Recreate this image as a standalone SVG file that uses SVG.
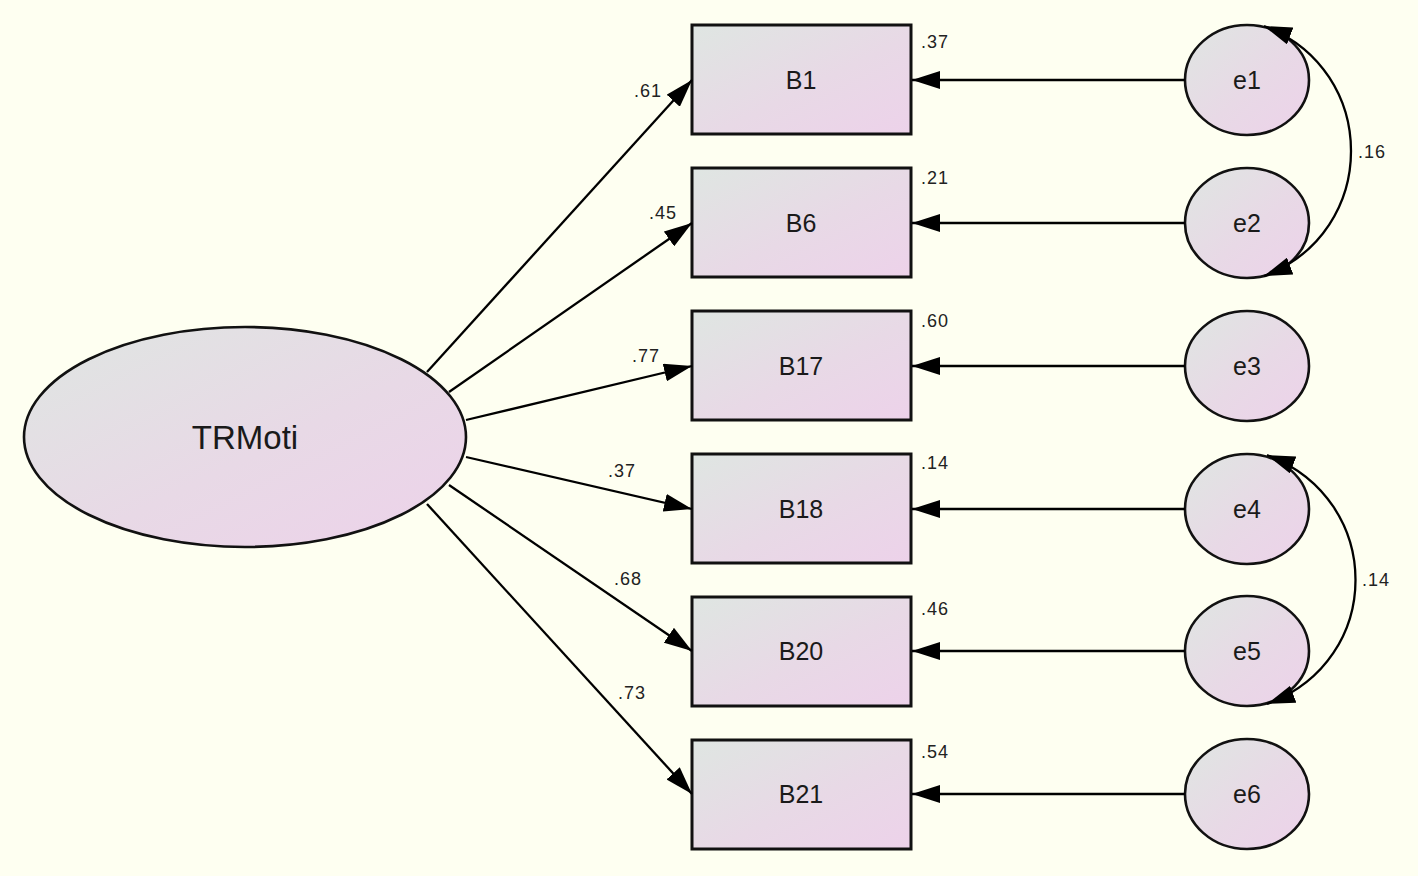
<svg xmlns="http://www.w3.org/2000/svg" width="1418" height="876" viewBox="0 0 1418 876">
<style>
.node{stroke:#111;stroke-width:2.6;fill:url(#g)}
.box{stroke-width:3}
.lbl{font-family:"Liberation Sans",Arial,sans-serif;fill:#1a1a1a;text-anchor:middle;dominant-baseline:central}
.big{font-size:33px}
.mid{font-size:25px}
.sm{font-size:18px;fill:#222;letter-spacing:1px}
.edge{stroke:#000;stroke-width:2.3;fill:none;marker-end:url(#ah)}
.cov{stroke:#000;stroke-width:2.3;fill:none;marker-end:url(#ah);marker-start:url(#ah)}
</style>
<defs>
<linearGradient id="g" x1="0" y1="0" x2="1" y2="1">
<stop offset="0" stop-color="#DFE6E2"/>
<stop offset="0.55" stop-color="#E8D9E6"/>
<stop offset="1" stop-color="#EDD2EA"/>
</linearGradient>
<marker id="ah" markerUnits="userSpaceOnUse" markerWidth="30" markerHeight="18" refX="28" refY="9" orient="auto-start-reverse">
<path d="M0,0 L28,9 L0,18 Z" fill="#000"/>
</marker>
</defs>
<rect x="0" y="0" width="1418" height="876" fill="#FEFFF1"/>
<g id="TRMoti"><ellipse class="node" cx="245" cy="437" rx="221" ry="110"/><text class="lbl big" x="245" y="437">TRMoti</text></g>
<g id="B1"><rect class="node box" x="692" y="25" width="219" height="109"/><text class="lbl mid" x="801" y="80">B1</text><text class="lbl sm" x="935" y="42">.37</text></g>
<g id="B6"><rect class="node box" x="692" y="168" width="219" height="109"/><text class="lbl mid" x="801" y="223">B6</text><text class="lbl sm" x="935" y="178">.21</text></g>
<g id="B17"><rect class="node box" x="692" y="311" width="219" height="109"/><text class="lbl mid" x="801" y="366">B17</text><text class="lbl sm" x="935" y="321">.60</text></g>
<g id="B18"><rect class="node box" x="692" y="454" width="219" height="109"/><text class="lbl mid" x="801" y="509">B18</text><text class="lbl sm" x="935" y="463">.14</text></g>
<g id="B20"><rect class="node box" x="692" y="597" width="219" height="109"/><text class="lbl mid" x="801" y="651">B20</text><text class="lbl sm" x="935" y="609">.46</text></g>
<g id="B21"><rect class="node box" x="692" y="740" width="219" height="109"/><text class="lbl mid" x="801" y="794">B21</text><text class="lbl sm" x="935" y="752">.54</text></g>
<g id="e1"><ellipse class="node" cx="1247" cy="80" rx="62" ry="55"/><text class="lbl mid" x="1247" y="80">e1</text></g>
<g id="e2"><ellipse class="node" cx="1247" cy="223" rx="62" ry="55"/><text class="lbl mid" x="1247" y="223">e2</text></g>
<g id="e3"><ellipse class="node" cx="1247" cy="366" rx="62" ry="55"/><text class="lbl mid" x="1247" y="366">e3</text></g>
<g id="e4"><ellipse class="node" cx="1247" cy="509" rx="62" ry="55"/><text class="lbl mid" x="1247" y="509">e4</text></g>
<g id="e5"><ellipse class="node" cx="1247" cy="651" rx="62" ry="55"/><text class="lbl mid" x="1247" y="651">e5</text></g>
<g id="e6"><ellipse class="node" cx="1247" cy="794" rx="62" ry="55"/><text class="lbl mid" x="1247" y="794">e6</text></g>
<g id="connectors">
<path class="edge" d="M427,372 L692,80"/>
<path class="edge" d="M449,392 L692,223"/>
<path class="edge" d="M466,420 L692,366"/>
<path class="edge" d="M466,457 L692,509"/>
<path class="edge" d="M449,485 L692,651"/>
<path class="edge" d="M427,504 L692,794"/>
<path class="edge" d="M1185,80 L912,80"/>
<path class="edge" d="M1185,223 L912,223"/>
<path class="edge" d="M1185,366 L912,366"/>
<path class="edge" d="M1185,509 L912,509"/>
<path class="edge" d="M1185,651 L912,651"/>
<path class="edge" d="M1185,794 L912,794"/>
<path class="cov" d="M1264,26 C1380,70 1380,232 1264,276"/>
<path class="cov" d="M1267,455 C1385,500 1385,660 1267,704"/>
<text class="lbl sm" x="648" y="91">.61</text>
<text class="lbl sm" x="663" y="213">.45</text>
<text class="lbl sm" x="646" y="356">.77</text>
<text class="lbl sm" x="622" y="471">.37</text>
<text class="lbl sm" x="628" y="579">.68</text>
<text class="lbl sm" x="632" y="693">.73</text>
<text class="lbl sm" x="1372" y="152">.16</text>
<text class="lbl sm" x="1376" y="580">.14</text>
</g>
</svg>
